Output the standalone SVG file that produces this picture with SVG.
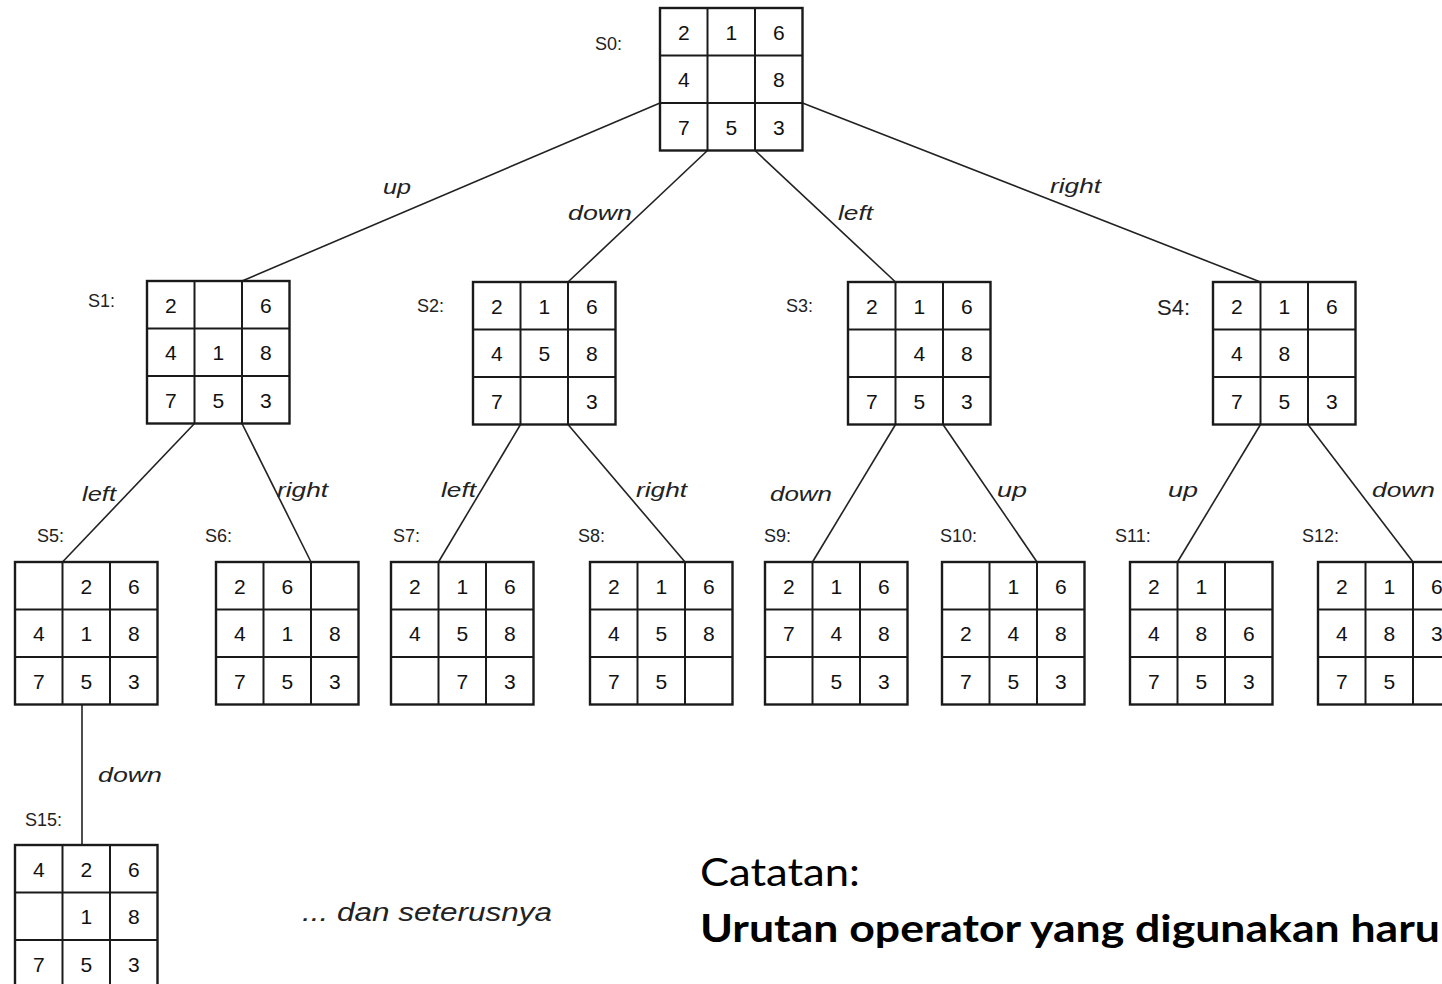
<svg xmlns="http://www.w3.org/2000/svg" xmlns:xlink="http://www.w3.org/1999/xlink" width="1442" height="984" viewBox="0 0 1442 984">
<style>
.d{font-family:"Liberation Sans",Arial,sans-serif;font-size:21px;fill:#111;text-anchor:middle}
.s{font-family:"Liberation Sans",Arial,sans-serif;font-size:18px;fill:#222}
.e{font-family:"Liberation Sans",Arial,sans-serif;font-size:21px;font-style:italic;fill:#222}
.c{stroke:#222;stroke-width:1.6;fill:none}
.gb{fill:#fff;stroke:#1a1a1a;stroke-width:2.4}
.gl{stroke:#1a1a1a;stroke-width:2}
.n{font-family:Lato,"Open Sans",sans-serif;fill:#000}
</style>
<defs>
<g id="grid">
<rect class="gb" x="0" y="0" width="142.5" height="142.5"/>
<line class="gl" x1="47.5" y1="0" x2="47.5" y2="142.5"/>
<line class="gl" x1="95" y1="0" x2="95" y2="142.5"/>
<line class="gl" x1="0" y1="47.5" x2="142.5" y2="47.5"/>
<line class="gl" x1="0" y1="95" x2="142.5" y2="95"/>
</g>
</defs>
<rect width="1442" height="984" fill="#fff"/>
<g id="connectors">
<line class="c" x1="660" y1="103" x2="242" y2="281" stroke-width="2"/>
<line class="c" x1="707.5" y1="150.5" x2="568" y2="282"/>
<line class="c" x1="755" y1="150.5" x2="895.5" y2="282"/>
<line class="c" x1="802.5" y1="103" x2="1260.5" y2="282" stroke-width="2"/>
<line class="c" x1="194.5" y1="423.5" x2="62.5" y2="562"/>
<line class="c" x1="242" y1="423.5" x2="311" y2="562"/>
<line class="c" x1="520.5" y1="424.5" x2="438.5" y2="562"/>
<line class="c" x1="568" y1="424.5" x2="685" y2="562"/>
<line class="c" x1="895.5" y1="424.5" x2="812.5" y2="562"/>
<line class="c" x1="943" y1="424.5" x2="1037" y2="562"/>
<line class="c" x1="1260.5" y1="424.5" x2="1177.5" y2="562"/>
<line class="c" x1="1308" y1="424.5" x2="1413" y2="562"/>
<line class="c" x1="82" y1="704.5" x2="82" y2="845"/>
<text class="e" x="383" y="194" textLength="28" lengthAdjust="spacingAndGlyphs">up</text>
<text class="e" x="568" y="220" textLength="64" lengthAdjust="spacingAndGlyphs">down</text>
<text class="e" x="838" y="220" textLength="35" lengthAdjust="spacingAndGlyphs">left</text>
<text class="e" x="1050" y="193" textLength="51" lengthAdjust="spacingAndGlyphs">right</text>
<text class="e" x="82" y="501" textLength="34" lengthAdjust="spacingAndGlyphs">left</text>
<text class="e" x="277" y="497" textLength="51" lengthAdjust="spacingAndGlyphs">right</text>
<text class="e" x="441" y="497" textLength="35" lengthAdjust="spacingAndGlyphs">left</text>
<text class="e" x="636" y="497" textLength="51" lengthAdjust="spacingAndGlyphs">right</text>
<text class="e" x="770" y="501" textLength="62" lengthAdjust="spacingAndGlyphs">down</text>
<text class="e" x="997" y="497" textLength="30" lengthAdjust="spacingAndGlyphs">up</text>
<text class="e" x="1168" y="497" textLength="30" lengthAdjust="spacingAndGlyphs">up</text>
<text class="e" x="1372" y="497" textLength="63" lengthAdjust="spacingAndGlyphs">down</text>
<text class="e" x="98" y="782" textLength="64" lengthAdjust="spacingAndGlyphs">down</text>
</g>
<g id="S0">
<use xlink:href="#grid" x="660" y="8"/>
<text class="s" x="595" y="50">S0:</text>
<text class="d" x="683.75" y="39.5">2</text><text class="d" x="731.25" y="39.5">1</text><text class="d" x="778.75" y="39.5">6</text>
<text class="d" x="683.75" y="87">4</text><text class="d" x="778.75" y="87">8</text>
<text class="d" x="683.75" y="134.5">7</text><text class="d" x="731.25" y="134.5">5</text><text class="d" x="778.75" y="134.5">3</text>
</g>
<g id="S1">
<use xlink:href="#grid" x="147" y="281"/>
<text class="s" x="88" y="307">S1:</text>
<text class="d" x="170.75" y="312.5">2</text><text class="d" x="265.75" y="312.5">6</text>
<text class="d" x="170.75" y="360">4</text><text class="d" x="218.25" y="360">1</text><text class="d" x="265.75" y="360">8</text>
<text class="d" x="170.75" y="407.5">7</text><text class="d" x="218.25" y="407.5">5</text><text class="d" x="265.75" y="407.5">3</text>
</g>
<g id="S2">
<use xlink:href="#grid" x="473" y="282"/>
<text class="s" x="417" y="312">S2:</text>
<text class="d" x="496.75" y="313.5">2</text><text class="d" x="544.25" y="313.5">1</text><text class="d" x="591.75" y="313.5">6</text>
<text class="d" x="496.75" y="361">4</text><text class="d" x="544.25" y="361">5</text><text class="d" x="591.75" y="361">8</text>
<text class="d" x="496.75" y="408.5">7</text><text class="d" x="591.75" y="408.5">3</text>
</g>
<g id="S3">
<use xlink:href="#grid" x="848" y="282"/>
<text class="s" x="786" y="312">S3:</text>
<text class="d" x="871.75" y="313.5">2</text><text class="d" x="919.25" y="313.5">1</text><text class="d" x="966.75" y="313.5">6</text>
<text class="d" x="919.25" y="361">4</text><text class="d" x="966.75" y="361">8</text>
<text class="d" x="871.75" y="408.5">7</text><text class="d" x="919.25" y="408.5">5</text><text class="d" x="966.75" y="408.5">3</text>
</g>
<g id="S4">
<use xlink:href="#grid" x="1213" y="282"/>
<text class="s" x="1157" y="315" style="font-size:22px">S4:</text>
<text class="d" x="1236.75" y="313.5">2</text><text class="d" x="1284.25" y="313.5">1</text><text class="d" x="1331.75" y="313.5">6</text>
<text class="d" x="1236.75" y="361">4</text><text class="d" x="1284.25" y="361">8</text>
<text class="d" x="1236.75" y="408.5">7</text><text class="d" x="1284.25" y="408.5">5</text><text class="d" x="1331.75" y="408.5">3</text>
</g>
<g id="S5">
<use xlink:href="#grid" x="15" y="562"/>
<text class="s" x="37" y="542">S5:</text>
<text class="d" x="86.25" y="593.5">2</text><text class="d" x="133.75" y="593.5">6</text>
<text class="d" x="38.75" y="641">4</text><text class="d" x="86.25" y="641">1</text><text class="d" x="133.75" y="641">8</text>
<text class="d" x="38.75" y="688.5">7</text><text class="d" x="86.25" y="688.5">5</text><text class="d" x="133.75" y="688.5">3</text>
</g>
<g id="S6">
<use xlink:href="#grid" x="216" y="562"/>
<text class="s" x="205" y="542">S6:</text>
<text class="d" x="239.75" y="593.5">2</text><text class="d" x="287.25" y="593.5">6</text>
<text class="d" x="239.75" y="641">4</text><text class="d" x="287.25" y="641">1</text><text class="d" x="334.75" y="641">8</text>
<text class="d" x="239.75" y="688.5">7</text><text class="d" x="287.25" y="688.5">5</text><text class="d" x="334.75" y="688.5">3</text>
</g>
<g id="S7">
<use xlink:href="#grid" x="391" y="562"/>
<text class="s" x="393" y="542">S7:</text>
<text class="d" x="414.75" y="593.5">2</text><text class="d" x="462.25" y="593.5">1</text><text class="d" x="509.75" y="593.5">6</text>
<text class="d" x="414.75" y="641">4</text><text class="d" x="462.25" y="641">5</text><text class="d" x="509.75" y="641">8</text>
<text class="d" x="462.25" y="688.5">7</text><text class="d" x="509.75" y="688.5">3</text>
</g>
<g id="S8">
<use xlink:href="#grid" x="590" y="562"/>
<text class="s" x="578" y="542">S8:</text>
<text class="d" x="613.75" y="593.5">2</text><text class="d" x="661.25" y="593.5">1</text><text class="d" x="708.75" y="593.5">6</text>
<text class="d" x="613.75" y="641">4</text><text class="d" x="661.25" y="641">5</text><text class="d" x="708.75" y="641">8</text>
<text class="d" x="613.75" y="688.5">7</text><text class="d" x="661.25" y="688.5">5</text>
</g>
<g id="S9">
<use xlink:href="#grid" x="765" y="562"/>
<text class="s" x="764" y="542">S9:</text>
<text class="d" x="788.75" y="593.5">2</text><text class="d" x="836.25" y="593.5">1</text><text class="d" x="883.75" y="593.5">6</text>
<text class="d" x="788.75" y="641">7</text><text class="d" x="836.25" y="641">4</text><text class="d" x="883.75" y="641">8</text>
<text class="d" x="836.25" y="688.5">5</text><text class="d" x="883.75" y="688.5">3</text>
</g>
<g id="S10">
<use xlink:href="#grid" x="942" y="562"/>
<text class="s" x="940" y="542">S10:</text>
<text class="d" x="1013.25" y="593.5">1</text><text class="d" x="1060.75" y="593.5">6</text>
<text class="d" x="965.75" y="641">2</text><text class="d" x="1013.25" y="641">4</text><text class="d" x="1060.75" y="641">8</text>
<text class="d" x="965.75" y="688.5">7</text><text class="d" x="1013.25" y="688.5">5</text><text class="d" x="1060.75" y="688.5">3</text>
</g>
<g id="S11">
<use xlink:href="#grid" x="1130" y="562"/>
<text class="s" x="1115" y="542">S11:</text>
<text class="d" x="1153.75" y="593.5">2</text><text class="d" x="1201.25" y="593.5">1</text>
<text class="d" x="1153.75" y="641">4</text><text class="d" x="1201.25" y="641">8</text><text class="d" x="1248.75" y="641">6</text>
<text class="d" x="1153.75" y="688.5">7</text><text class="d" x="1201.25" y="688.5">5</text><text class="d" x="1248.75" y="688.5">3</text>
</g>
<g id="S12">
<use xlink:href="#grid" x="1318" y="562"/>
<text class="s" x="1302" y="542">S12:</text>
<text class="d" x="1341.75" y="593.5">2</text><text class="d" x="1389.25" y="593.5">1</text><text class="d" x="1436.75" y="593.5">6</text>
<text class="d" x="1341.75" y="641">4</text><text class="d" x="1389.25" y="641">8</text><text class="d" x="1436.75" y="641">3</text>
<text class="d" x="1341.75" y="688.5">7</text><text class="d" x="1389.25" y="688.5">5</text>
</g>
<g id="S15">
<use xlink:href="#grid" x="15" y="845"/>
<text class="s" x="25" y="826">S15:</text>
<text class="d" x="38.75" y="876.5">4</text><text class="d" x="86.25" y="876.5">2</text><text class="d" x="133.75" y="876.5">6</text>
<text class="d" x="86.25" y="924">1</text><text class="d" x="133.75" y="924">8</text>
<text class="d" x="38.75" y="971.5">7</text><text class="d" x="86.25" y="971.5">5</text><text class="d" x="133.75" y="971.5">3</text>
</g>
<text class="e" x="302" y="921" style="font-size:25px" textLength="250" lengthAdjust="spacingAndGlyphs">... dan seterusnya</text>
<text class="n" x="700" y="886" style="font-size:38px" textLength="160" lengthAdjust="spacingAndGlyphs">Catatan:</text>
<text class="n" x="700" y="942" style="font-size:38px;font-weight:bold" textLength="740" lengthAdjust="spacingAndGlyphs">Urutan operator yang digunakan haru</text>
</svg>
